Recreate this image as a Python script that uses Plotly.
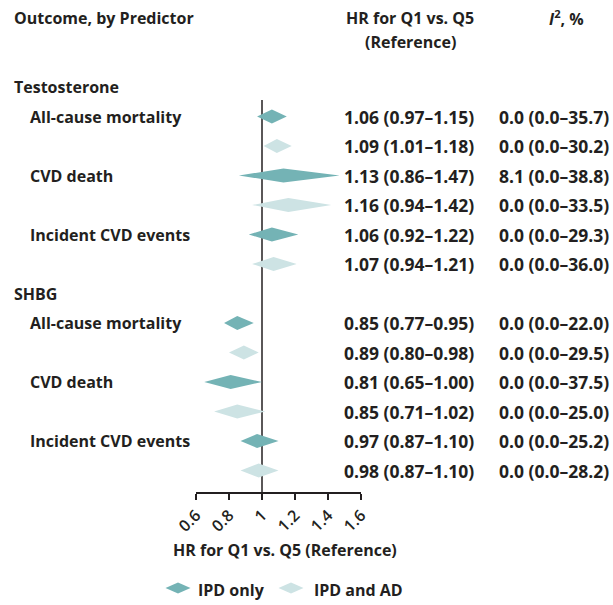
import plotly.graph_objects as go

# ---- data -------------------------------------------------------------
predictors = ["Testosterone", "SHBG"]
outcomes = ["All-cause mortality", "CVD death", "Incident CVD events"]

# HR (lower, upper) per predictor x outcome; IPD only / IPD and AD
ipd_hr = [[1.06, 1.13, 1.06], [0.85, 0.81, 0.97]]
ipd_lo = [[0.97, 0.86, 0.92], [0.77, 0.65, 0.87]]
ipd_hi = [[1.15, 1.47, 1.22], [0.95, 1.00, 1.10]]
all_hr = [[1.09, 1.16, 1.07], [0.89, 0.85, 0.98]]
all_lo = [[1.01, 0.94, 0.94], [0.80, 0.71, 0.87]]
all_hi = [[1.18, 1.42, 1.21], [0.98, 1.02, 1.10]]

# I^2 (%) with 95% CI
ipd_i2 = [["0.0 (0.0–35.7)", "8.1 (0.0–38.8)", "0.0 (0.0–29.3)"],
          ["0.0 (0.0–22.0)", "0.0 (0.0–37.5)", "0.0 (0.0–25.2)"]]
all_i2 = [["0.0 (0.0–30.2)", "0.0 (0.0–33.5)", "0.0 (0.0–36.0)"],
          ["0.0 (0.0–29.5)", "0.0 (0.0–25.0)", "0.0 (0.0–28.2)"]]

tick_vals = [0.6, 0.8, 1.0, 1.2, 1.4, 1.6]
tick_text = ["0.6", "0.8", "1", "1.2", "1.4", "1.6"]
series_names = ["IPD only", "IPD and AD"]

# ---- styling -----------------------------------------------------------
W, H = 613, 605
PL, PR, PT, PB = 196, 361, 100, 492          # plot area in pixels
ROW0, ROWSTEP = 87, 29.5                      # pixel y of row 0 and spacing
DARK = "#231f20"
C_IPD = "#74b3b5"
C_ALL = "#cde3e4"
FONT = dict(family="Open Sans", size=16, color=DARK, weight=700)
NUMFONT = dict(family="Open Sans", size=17.5, color=DARK, weight=700)
HALF = 0.235                                  # diamond half-height (rows)


def px(x):
    return (x - PL) / (PR - PL)


def py(y):
    return (PB - y) / (PB - PT)


def prow(r):
    return py(ROW0 + ROWSTEP * r)


fig = go.Figure()
ann = []


def diamond(lo, est, hi, row, color, name):
    fig.add_trace(go.Scatter(
        x=[lo, est, hi, est, lo],
        y=[row, row - HALF, row, row + HALF, row],
        mode="lines", fill="toself", fillcolor=color,
        line=dict(width=0, color=color), hoverinfo="skip",
        name=name, showlegend=False))


def text(x, y, s, anchor="left", font=FONT):
    ann.append(dict(x=px(x), xref="paper", y=y, yref="paper", text=s,
                    showarrow=False, xanchor=anchor, yanchor="middle",
                    font=font))


row = 0
for p, pred in enumerate(predictors):
    text(12, prow(row), pred)
    row += 1
    for o, outc in enumerate(outcomes):
        # IPD only
        text(28, prow(row), outc)
        diamond(ipd_lo[p][o], ipd_hr[p][o], ipd_hi[p][o], row, C_IPD, series_names[0])
        text(342, prow(row), f"{ipd_hr[p][o]:.2f} ({ipd_lo[p][o]:.2f}–{ipd_hi[p][o]:.2f})",
             font=NUMFONT)
        text(497, prow(row), ipd_i2[p][o], font=NUMFONT)
        row += 1
        # IPD and AD
        diamond(all_lo[p][o], all_hr[p][o], all_hi[p][o], row, C_ALL, series_names[1])
        text(342, prow(row), f"{all_hr[p][o]:.2f} ({all_lo[p][o]:.2f}–{all_hi[p][o]:.2f})",
             font=NUMFONT)
        text(497, prow(row), all_i2[p][o], font=NUMFONT)
        row += 1

# column headers
text(12, py(18), "Outcome, by Predictor")
text(410, py(18), "HR for Q1 vs. Q5", anchor="center")
text(410, py(42), "(Reference)", anchor="center")
text(547, py(18), "<i>I</i><sup>2</sup>, %")

# x-axis title
text(285, py(550), "HR for Q1 vs. Q5 (Reference)", anchor="center")

# legend
shapes = []
for cx, color, label, tx in [(178, C_IPD, series_names[0], 196),
                             (291, C_ALL, series_names[1], 312)]:
    cy, hw, hh = 588, 12.5, 5.5
    shapes.append(dict(
        type="path", xref="paper", yref="paper", line=dict(width=0),
        fillcolor=color,
        path=f"M {px(cx-hw)} {py(cy)} L {px(cx)} {py(cy-hh)} "
             f"L {px(cx+hw)} {py(cy)} L {px(cx)} {py(cy+hh)} Z"))
    text(tx, py(590), label)

# reference line at HR = 1
shapes.append(dict(type="line", xref="x", yref="paper", x0=1, x1=1, y0=0, y1=1,
                   line=dict(color=DARK, width=1.5), layer="below"))

ymin = (PT - ROW0) / ROWSTEP
ymax = (PB - ROW0) / ROWSTEP

fig.update_layout(
    width=W, height=H,
    margin=dict(l=PL, r=W - PR, t=PT, b=H - PB, pad=0),
    paper_bgcolor="white", plot_bgcolor="white",
    showlegend=False,
    annotations=ann, shapes=shapes,
    xaxis=dict(range=[0.6, 1.6], tickvals=tick_vals, ticktext=tick_text,
               tickangle=-45, ticks="outside", ticklen=6, tickwidth=1.5,
               tickcolor=DARK, showline=True, linecolor=DARK, linewidth=1.5,
               showgrid=False, zeroline=False,
               tickfont=dict(family="Open Sans", size=16, color=DARK, weight=600)),
    yaxis=dict(range=[ymax, ymin], visible=False, showgrid=False,
               zeroline=False),
)

fig.write_html("out.html")
